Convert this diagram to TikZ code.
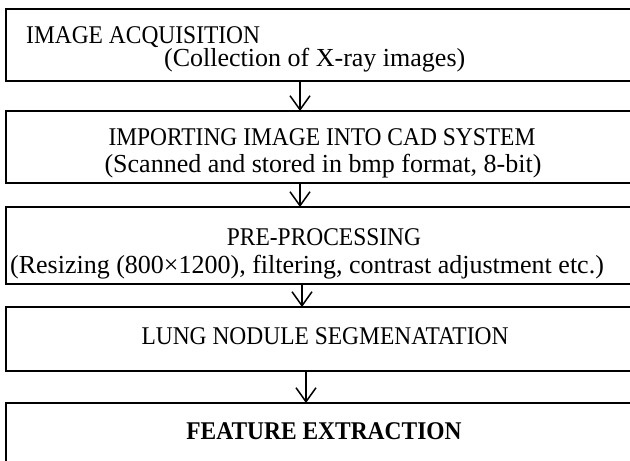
\documentclass[tikz,border=0pt]{standalone}
\usepackage{fontspec}
\setmainfont{Liberation Serif}
\newfontfamily\headfont[FakeStretch=0.92]{Liberation Serif}
\usetikzlibrary{arrows.meta}
\begin{document}
\begin{tikzpicture}[x=1pt,y=-1pt,
  stage/.style={draw=black, line width=1.6pt, minimum width=640pt, inner sep=0pt, outer sep=0pt, anchor=north west},
  lbl/.style={inner sep=0pt, anchor=base, font=\headfont\fontsize{25.5}{30}\selectfont},
  note/.style={inner sep=0pt, anchor=base, font=\fontsize{26}{30}\selectfont},
  flow/.style={line width=1.5pt, -{Straight Barb[length=14pt,width=20pt,line width=1.5pt]}}]
\useasboundingbox (0,0) rectangle (630,461);
\clip (0,0) rectangle (630,461);
% stage boxes (they run past the right and bottom edges)
\node[stage, minimum height=72pt] (s1) at (6,9) {};
\node[stage, minimum height=72pt] (s2) at (6,111) {};
\node[stage, minimum height=77pt] (s3) at (6,207) {};
\node[stage, minimum height=64pt] (s4) at (6,307) {};
\node[stage, minimum height=80pt] (s5) at (6,403) {};
% labels
\node[lbl, anchor=base west] (t1) at (26,43) {IMAGE ACQUISITION};
\node[note, anchor=base west] (t1b) at (164,66) {(Collection of X-ray images)};
\node[lbl] (t2) at (322,145) {IMPORTING IMAGE INTO CAD SYSTEM};
\node[note] (t2b) at (323,172) {(Scanned and stored in bmp format, 8-bit)};
\node[lbl] (t3) at (324,245) {PRE-PROCESSING};
\node[note] (t3b) at (307,273) {(Resizing (800×1200), filtering, contrast adjustment etc.)};
\node[lbl] (t4) at (325,344) {LUNG NODULE SEGMENATATION};
\node[lbl, font=\headfont\fontsize{25.5}{30}\selectfont\bfseries] (t5) at (324,439) {FEATURE EXTRACTION};
% connectors
\coordinate (a1) at (300,0);
\coordinate (a2) at (300,0);
\coordinate (a3) at (302,0);
\coordinate (a4) at (306,0);
\draw[flow] (a1 |- s1.south) -- (a1 |- s2.north);
\draw[flow] (a2 |- s2.south) -- (a2 |- s3.north);
\draw[flow] (a3 |- s3.south) -- (a3 |- s4.north);
\draw[flow] (a4 |- s4.south) -- (a4 |- s5.north);
\end{tikzpicture}
\end{document}
